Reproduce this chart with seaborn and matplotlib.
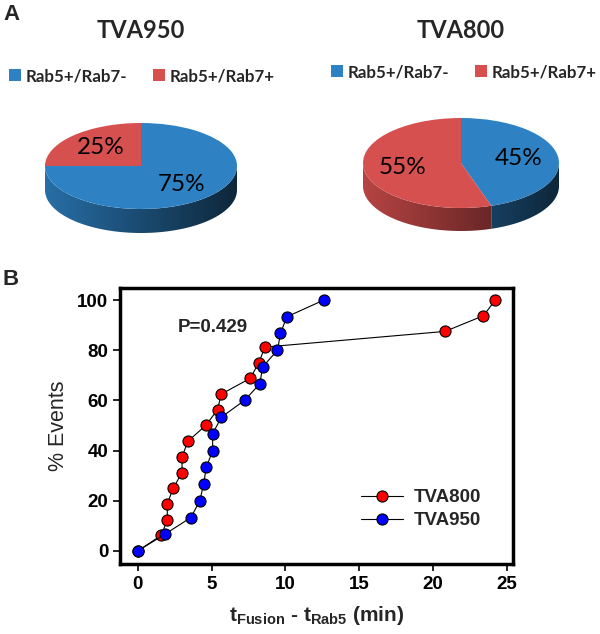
import numpy as np
import pandas as pd
import matplotlib
matplotlib.use("Agg")
import matplotlib.pyplot as plt
from matplotlib.patches import Polygon
import seaborn as sns

# ---- data ----
pie_labels = ['Rab5+/Rab7-', 'Rab5+/Rab7+']
pie_colors = ['#2e82c4', '#d6504f']
tva950_pie = [75, 25]
tva800_pie = [45, 55]

tva800_time = [0, 1.6, 2.0, 2.0, 2.4, 3.0, 3.0, 3.4, 4.6, 5.4, 5.65, 7.6, 8.2, 8.6, 20.8, 23.4, 24.2]
tva800_pct = [0, 6.25, 12.5, 18.75, 25, 31.25, 37.5, 43.75, 50, 56.25, 62.5, 68.75, 75, 81.25, 87.5, 93.75, 100]
tva950_time = [0, 1.84, 3.6, 4.2, 4.46, 4.64, 5.07, 5.07, 5.66, 7.23, 8.27, 8.45, 9.46, 9.66, 10.09, 12.6]
tva950_pct = [0, 6.67, 13.33, 20, 26.67, 33.33, 40, 46.67, 53.33, 60, 66.67, 73.33, 80, 86.67, 93.33, 100]

sns.set_style('white')
plt.rcParams['mathtext.fontset'] = 'custom'
plt.rcParams['mathtext.bf'] = 'Liberation Sans:bold'
plt.rcParams['mathtext.rm'] = 'Liberation Sans:bold'
plt.rcParams['mathtext.it'] = 'Liberation Sans:bold'
plt.rcParams['mathtext.default'] = 'bf'

W, H = 600, 634
fig = plt.figure(figsize=(6, 6.34), dpi=100)


def px_axes(x0, y0, x1, y1):
    # axes from pixel box (top-left origin)
    return fig.add_axes([x0 / W, 1 - y1 / H, (x1 - x0) / W, (y1 - y0) / H])


def draw_pie(cx, cy, rx, ry, depth_px, values, title, leg_x, leg_y):
    top, bot = 108, 252
    ax = px_axes(cx - rx * 1.15, top, cx + rx * 1.15, bot)
    wedges, texts, autotexts = ax.pie(
        values, colors=pie_colors, startangle=90, counterclock=False,
        autopct='%1.0f%%', pctdistance=0.6,
        wedgeprops=dict(edgecolor='none', linewidth=0),
        textprops=dict(family='Lato', fontsize=17.5, color='black'))
    ax.set_aspect('auto')
    d = depth_px / ry
    # extruded side, shaded left (light) to right (dark)
    for w, c in zip(wedges, pie_colors):
        t1, t2 = sorted([w.theta1, w.theta2])
        for k in range(-2, 3):
            a = max(t1, 180 + 360 * k)
            b = min(t2, 360 + 360 * k)
            if b <= a:
                continue
            t = np.radians(np.linspace(a, b, 100))
            xs = np.cos(t)
            ys = np.sin(t)
            pts = np.vstack([np.column_stack([xs, ys]),
                             np.column_stack([xs[::-1], ys[::-1] - d])])
            poly = Polygon(pts, closed=True, facecolor='none', edgecolor='none')
            ax.add_patch(poly)
            gx = np.linspace(-1, 1, 200)
            fac = 0.85 - 0.55 * (gx + 1) / 2
            rgb = np.array(matplotlib.colors.to_rgb(c))
            img = (fac[:, None] * rgb[None, :])[None, :, :]
            im = ax.imshow(img, extent=[-1, 1, -1 - d, 0], aspect='auto',
                           zorder=0.5, interpolation='bilinear')
            im.set_clip_path(poly)
    ax.set_xlim(-1.15, 1.15)
    ax.set_ylim(-(bot - cy) / ry, (cy - top) / ry)
    ax.axis('off')
    fig.text(cx / W, 1 - 30 / H, title, ha='center', va='center',
             family='Lato', fontweight='bold', fontsize=17)
    ax.legend(wedges, pie_labels, loc='center', ncol=2, frameon=False,
              bbox_to_anchor=(leg_x / W, 1 - leg_y / H), bbox_transform=fig.transFigure,
              prop=dict(family='Lato', weight='bold', size=12.2),
              handlelength=0.7, handleheight=0.7, handletextpad=0.3,
              columnspacing=1.5)


draw_pie(141, 166, 96, 43, 24, tva950_pie, 'TVA950', 142, 76)
draw_pie(461, 163, 98, 45, 23, tva800_pie, 'TVA800', 464, 72)

fig.text(3 / W, 1 - 14 / H, 'A', fontsize=16, fontweight='bold',
         family='Liberation Sans', va='center', ha='left')
fig.text(3 / W, 1 - 280 / H, 'B', fontsize=16, fontweight='bold',
         family='Liberation Sans', va='center', ha='left')

# ---- panel B ----
axb = px_axes(120, 288, 513, 564)
sns.lineplot(x=tva800_time, y=tva800_pct, ax=axb, sort=False, estimator=None,
             color='black', lw=0.8, marker='o', markersize=8,
             markerfacecolor='#ff0000', markeredgecolor='black',
             markeredgewidth=0.8, label='TVA800')
sns.lineplot(x=tva950_time, y=tva950_pct, ax=axb, sort=False, estimator=None,
             color='black', lw=0.8, marker='o', markersize=8,
             markerfacecolor='#0000ff', markeredgecolor='black',
             markeredgewidth=0.8, label='TVA950')
axb.set_xlim(-1.2, 25.4)
axb.set_ylim(-5.2, 104.8)
axb.set_xticks([0, 5, 10, 15, 20, 25])
axb.set_yticks([0, 20, 40, 60, 80, 100])
for s in axb.spines.values():
    s.set_linewidth(2.5)
    s.set_color('black')
axb.tick_params(direction='out', length=5, width=1.2, labelsize=13.5,
                bottom=True, left=True, top=False, right=False, colors='black')
for lab in axb.get_xticklabels() + axb.get_yticklabels():
    lab.set_fontweight('bold')
    lab.set_family('Liberation Sans')
axb.set_ylabel('% Events', fontsize=15.5, family='Liberation Sans', labelpad=6)
axb.set_xlabel(r'$t_{Fusion}$ - $t_{Rab5}$ (min)', fontsize=15,
               family='Liberation Sans', fontweight='bold', labelpad=8)
axb.text(5.1, 89, 'P=0.429', fontsize=13.5, fontweight='bold',
         family='Liberation Sans', ha='center', va='center')
axb.legend(loc='upper left', bbox_to_anchor=(352 / W, 1 - 480 / H),
           bbox_transform=fig.transFigure, frameon=False,
           prop=dict(family='Liberation Sans', weight='bold', size=13.5),
           handlelength=2.2, handletextpad=0.6, borderpad=0, labelspacing=0.3)

fig.savefig('out.png', dpi=100)
